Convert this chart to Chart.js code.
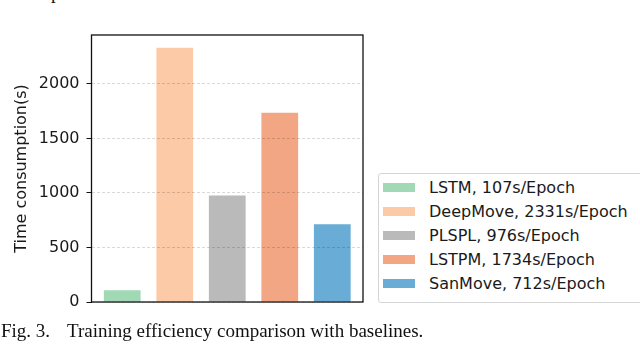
<!DOCTYPE html>
<html>
<head>
<meta charset="utf-8">
<script src="https://cdn.jsdelivr.net/npm/chart.js@4"></script>
<style>
  html, body { margin:0; padding:0; background:#fff; }
  body { width:640px; height:350px; position:relative; overflow:hidden; }
  #wrap { position:absolute; left:0; top:0; width:640px; height:350px; }
  #legend { position:absolute; left:378px; top:173px; width:290px; height:127px;
    border:1px solid #d4d4d4; border-radius:3px; background:#fff; box-sizing:content-box;
    padding-top:1px; font-family:"DejaVu Sans"; font-size:16px; color:#1a1a1a; }
  .row { height:24.1px; display:flex; align-items:center; }
  .patch { width:32px; height:9px; margin-left:4px; margin-right:14px; }
  #caption { position:absolute; left:1px; top:321px; font-family:"Liberation Serif"; font-size:19px;
    line-height:19px; color:#111; white-space:nowrap; }
  #prev { position:absolute; left:51px; top:-17px; font-family:"Liberation Serif"; font-size:19px;
    line-height:19px; color:#111; }
</style>
</head>
<body>
<div id="prev">p</div>
<div id="wrap"><canvas id="c" width="640" height="350"></canvas></div>
<div id="legend"></div>
<div id="caption">Fig. 3.<span style="margin-left:17px">Training efficiency comparison with baselines.</span></div>
<script>
const categories = ["LSTM", "DeepMove", "PLSPL", "LSTPM", "SanMove"];
const values = [107, 2331, 976, 1734, 712];
const legendLabels = ["LSTM, 107s/Epoch", "DeepMove, 2331s/Epoch", "PLSPL, 976s/Epoch", "LSTPM, 1734s/Epoch", "SanMove, 712s/Epoch"];
const colors = ["#a1d9b4", "#fdcaa7", "#bababa", "#f3a683", "#69acd6"];
const yTicks = [0, 500, 1000, 1500, 2000];
const yTitle = "Time consumption(s)";

Chart.defaults.font.family = "DejaVu Sans";
Chart.defaults.color = "#1a1a1a";

const framePlugin = {
  id: 'frame',
  afterDraw(chart) {
    const a = chart.chartArea, ctx = chart.ctx;
    ctx.save();
    ctx.strokeStyle = '#111';
    ctx.lineWidth = 1.3;
    ctx.strokeRect(a.left, a.top, a.right - a.left, a.bottom - a.top);
    ctx.restore();
  }
};

new Chart(document.getElementById('c'), {
  type: 'bar',
  data: {
    datasets: [{
      data: categories.map((c, i) => ({x: i, y: values[i]})),
      backgroundColor: colors,
      borderWidth: 0,
      barPercentage: 0.7,
      categoryPercentage: 1.0
    }]
  },
  plugins: [framePlugin],
  options: {
    responsive: false,
    animation: false,
    layout: { padding: { left: 0, top: 35, right: 277, bottom: 48 } },
    plugins: { legend: { display: false }, tooltip: { enabled: false } },
    scales: {
      x: {
        type: 'linear', min: -0.585, max: 4.585, offset: false,
        ticks: { display: false },
        grid: { display: false },
        border: { display: false },
        afterFit(s) { s.height = 0; }
      },
      y: {
        min: 0, max: 2447.55,
        afterBuildTicks(s) { s.ticks = yTicks.map(v => ({value: v})); },
        ticks: { font: { size: 16 }, padding: 7, color: '#1a1a1a', includeBounds: false,
                 callback: (v) => String(v) },
        grid: { color: 'rgba(0,0,0,0.15)', z: 1, tickLength: 5, tickColor: '#111', tickBorderDash: [], drawTicks: true },
        border: { display: false, dash: [3, 2] },
        title: { display: true, text: yTitle, font: { size: 16 }, padding: { top: 12, bottom: 0 }, color: '#1a1a1a' },
        afterFit(s) { s.width = 91.5; }
      }
    }
  }
});

const leg = document.getElementById('legend');
legendLabels.forEach((t, i) => {
  const r = document.createElement('div'); r.className = 'row';
  const p = document.createElement('div'); p.className = 'patch'; p.style.background = colors[i];
  const s = document.createElement('span'); s.textContent = t;
  r.appendChild(p); r.appendChild(s); leg.appendChild(r);
});
</script>
</body>
</html>
